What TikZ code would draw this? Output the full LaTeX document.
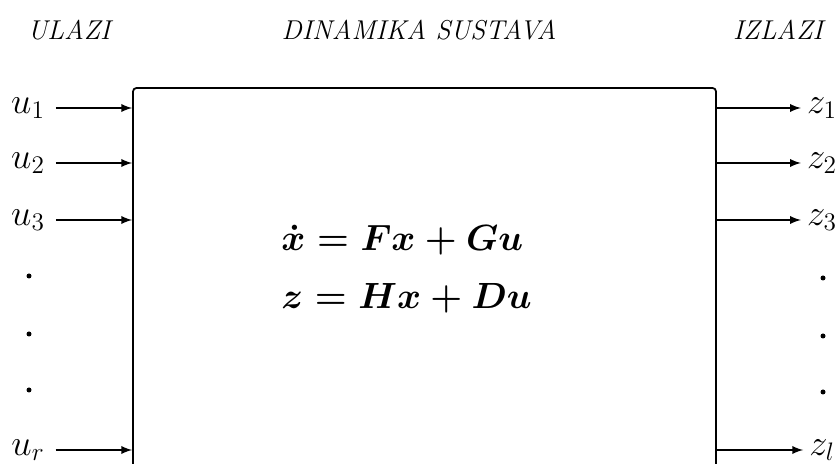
\documentclass[tikz,border=0pt]{standalone}
\usetikzlibrary{positioning}

\begin{document}
\begin{tikzpicture}[every node/.style={align=center}]
\tikzset{
  title/.style={font=\fontsize{15.5}{18}\selectfont\itshape},
  sig/.style={font=\fontsize{20}{24}\selectfont},
  eqn/.style={anchor=west, align=left, inner sep=0pt, font=\fontsize{20}{22}\selectfont\boldmath},
  sysbox/.style={draw, line width=1pt, rounded corners=2pt, minimum width=11.66cm, minimum height=7.72cm},
  wire/.style={-latex, line width=1.1pt},
  vdot/.style={circle, fill=black, inner sep=0pt, minimum size=0.1cm}
}
\useasboundingbox (0,0) rectangle (16.8,9.28);

% Naslovi
\node[title] (t_ul) at (1.38,8.68) {ULAZI};
\node[title] (t_din) at (8.38,8.68) {DINAMIKA SUSTAVA};
\node[title] (t_iz) at (15.56,8.68) {IZLAZI};

% Sustav
\node[sysbox] (sys) at (8.49,3.66) {};
\node[eqn] (eq1) at (5.62,4.48) {$\dot{x} = Fx + Gu$};
\node[eqn] (eq2) at (5.62,3.32) {$z = Hx + Du$};

% Ulazi (lijevo)
\node[sig] (u1) at (0.56,7.12) {$u_1$};
\node[sig] (u2) at (0.56,6.02) {$u_2$};
\node[sig] (u3) at (0.56,4.88) {$u_3$};
\node[sig] (ur) at (0.56,0.28) {$u_r$};

\node[vdot] (ud1) at (0.58,3.76) {};
\node[vdot] (ud2) at (0.58,2.60) {};
\node[vdot] (ud3) at (0.58,1.48) {};

\draw[wire, shorten <=0.1cm] (u1.east) -- (u1 -| sys.west);
\draw[wire, shorten <=0.1cm] (u2.east) -- (u2 -| sys.west);
\draw[wire, shorten <=0.1cm] (u3.east) -- (u3 -| sys.west);
\draw[wire, shorten <=0.1cm] (ur.east) -- (ur -| sys.west);

% Izlazi (desno)
\node[sig] (z1) at (16.44,7.12) {$z_1$};
\node[sig] (z2) at (16.44,6.02) {$z_2$};
\node[sig] (z3) at (16.44,4.88) {$z_3$};
\node[sig] (zl) at (16.44,0.28) {$z_l$};

\node[vdot] (zd1) at (16.46,3.72) {};
\node[vdot] (zd2) at (16.46,2.56) {};
\node[vdot] (zd3) at (16.46,1.44) {};

\draw[wire] (z1 -| sys.east) -- (z1.west);
\draw[wire] (z2 -| sys.east) -- (z2.west);
\draw[wire] (z3 -| sys.east) -- (z3.west);
\draw[wire] (zl -| sys.east) -- (zl.west);

\end{tikzpicture}
\end{document}
